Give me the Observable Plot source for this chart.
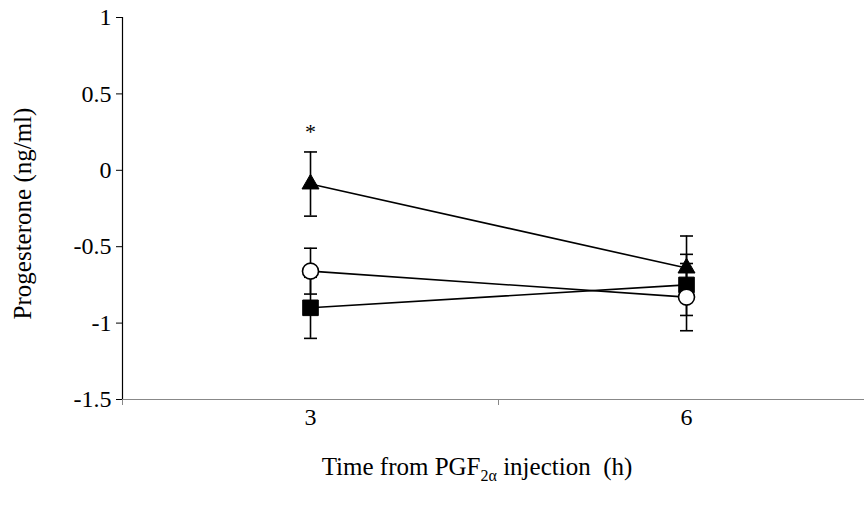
<!DOCTYPE html>
<html><head><meta charset="utf-8">
<script src="https://cdn.jsdelivr.net/npm/d3@7"></script>
<script src="https://cdn.jsdelivr.net/npm/@observablehq/plot@0.6"></script>
<style>body{margin:0;background:#fff}</style>
</head><body><div id="chart"></div>
<script>
// ---- data ----
const times = [3, 6];
const triangleMean = [-0.09, -0.64];
const triangleSE = [0.21, 0.21];
const squareMean = [-0.90, -0.75];
const squareSE = [0.20, 0.20];
const circleMean = [-0.66, -0.83];
const circleSE = [0.15, 0.22];
const yTicks = [-1.5, -1, -0.5, 0, 0.5, 1];
const xTickLabels = [3, 6];
const xBoundaryTicks = [1.5, 4.5];
const significance = [{time: 3, series: "triangle", label: "*"}];
const yLabel = "Progesterone (ng/ml)";

const seriesDefs = [
  {series: "triangle", mean: triangleMean, se: triangleSE},
  {series: "square", mean: squareMean, se: squareSE},
  {series: "circle", mean: circleMean, se: circleSE}
];
const rows = seriesDefs.flatMap(s => times.map((t, i) => ({
  series: s.series, time: t, mean: s.mean[i], lo: s.mean[i] - s.se[i], hi: s.mean[i] + s.se[i]
})));
const starRows = significance.map(d => {
  const r = rows.find(q => q.time === d.time && q.series === d.series);
  return {...d, y: r.hi};
});

const capSymbol = {draw(ctx, size) { const r = Math.sqrt(size / Math.PI); ctx.moveTo(-r, 0); ctx.lineTo(r, 0); }};
const font = "'Liberation Serif', 'Times New Roman', serif";

const chart = Plot.plot({
  width: 864, height: 510,
  marginLeft: 122, marginRight: 0, marginTop: 17, marginBottom: 111,
  style: {fontFamily: font, fontSize: "24px", color: "black", background: "white"},
  x: {domain: [1.5, 7.42], label: null},
  y: {domain: [-1.5, 1], label: null},
  marks: [
    Plot.ruleY([-1.5], {stroke: "#888", strokeWidth: 1.2}),
    Plot.axisX({ticks: xBoundaryTicks, tickSize: 6, tickFormat: () => "", stroke: "#888", label: null}),
    Plot.axisX({ticks: xTickLabels, tickSize: 0, tickPadding: 8, tickFormat: d => String(d), fontSize: 24, fontFamily: font, label: null}),
    Plot.ruleX([1.5], {y1: -1.5, y2: 1, stroke: "black", strokeWidth: 1.2}),
    Plot.axisY({ticks: yTicks, tickSize: 6, tickPadding: 5, tickFormat: d => String(d), fontSize: 24, fontFamily: font, label: null}),
    Plot.text([yLabel], {frameAnchor: "left", textAnchor: "middle", rotate: -90, dx: -100, dy: 5, fontSize: 25, fontFamily: font, text: d => d}),
    Plot.line(rows, {x: "time", y: "mean", z: "series", stroke: "black", strokeWidth: 1.6}),
    Plot.ruleX(rows, {x: "time", y1: "lo", y2: "hi", stroke: "black", strokeWidth: 1.6}),
    Plot.dot(rows, {x: "time", y: "lo", symbol: capSymbol, r: 6.5, stroke: "black", strokeWidth: 1.6, fill: "none"}),
    Plot.dot(rows, {x: "time", y: "hi", symbol: capSymbol, r: 6.5, stroke: "black", strokeWidth: 1.6, fill: "none"}),
    Plot.dot(rows.filter(d => d.series === "triangle"), {x: "time", y: "mean", symbol: "triangle", r: 6.3, fill: "black", stroke: "black", strokeWidth: 1}),
    Plot.dot(rows.filter(d => d.series === "square"), {x: "time", y: "mean", symbol: "square", r: 8.8, fill: "black", stroke: "black", strokeWidth: 1}),
    Plot.dot(rows.filter(d => d.series === "circle"), {x: "time", y: "mean", symbol: "circle", r: 8, fill: "white", stroke: "black", strokeWidth: 1.6}),
    Plot.text(starRows, {x: "time", y: "y", text: "label", dy: -20, fontSize: 22, fontFamily: font})
  ]
});
document.getElementById("chart").appendChild(chart);

// x-axis title with subscript
const svg = d3.select(chart);
const t = svg.append("text")
  .attr("x", 477).attr("y", 475)
  .attr("text-anchor", "middle")
  .attr("font-family", font).attr("font-size", 25)
  .attr("fill", "black")
  .attr("xml:space", "preserve");
t.append("tspan").text("Time from PGF");
t.append("tspan").attr("font-size", 16).attr("dy", 6).text("2\u03b1");
t.append("tspan").attr("dy", -6).text(" injection  (h)");
</script>
</body></html>
